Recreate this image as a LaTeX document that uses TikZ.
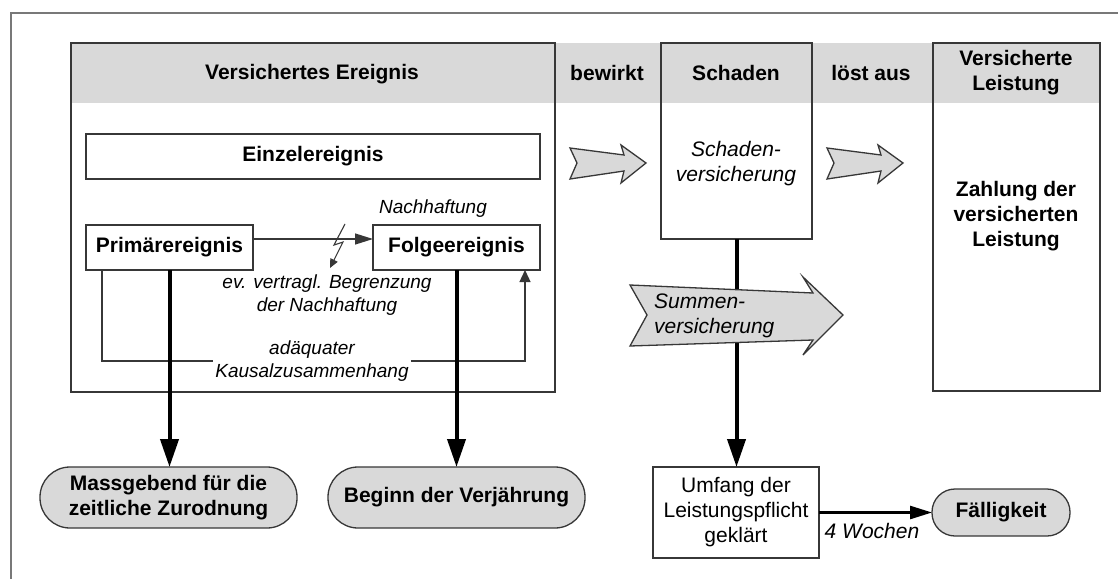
\documentclass[tikz,border=0pt]{standalone}
\usepackage{fontspec}
\setmainfont{Liberation Sans}
\usetikzlibrary{arrows.meta}
\definecolor{bg}{RGB}{217,217,217}
\definecolor{ln}{RGB}{55,55,55}
\definecolor{fr}{RGB}{120,120,120}
\begin{document}
\begin{tikzpicture}[x=1pt,y=-1pt,
  box/.style={draw=ln, line width=1.3pt, inner sep=0pt, outer sep=0pt, anchor=north west},
  oval/.style={box, fill=bg, rounded corners=#1},
  bf/.style={font=\fontsize{21}{25}\selectfont\bfseries},
  itf/.style={font=\fontsize{21}{25}\selectfont\itshape},
  rmf/.style={font=\fontsize{21}{25}\selectfont},
  sit/.style={font=\fontsize{19}{23.5}\selectfont\itshape},
  lbl/.style={inner sep=1pt, align=center},
  thickarrow/.style={line width=4pt, -{Triangle[length=28pt,width=18pt]}},
  medarrow/.style={line width=2.6pt, -{Triangle[length=22pt,width=13pt]}},
  thinarrow/.style={draw=ln, line width=1.3pt, -{Triangle[length=18pt,width=11pt]}},
  chev/.style={draw=ln, line width=1.3pt, fill=bg, line join=miter}
]
\useasboundingbox (0,0) rectangle (1118,578);
\fill[white] (0,0) rectangle (1118,578);
% outer frame
\draw[fr, line width=2pt] (10.7,600) -- (10.7,13) -- (1130,13);
% header band
\fill[bg] (71,43) rectangle (1100,103);
% main boxes
\node[box, minimum width=484pt, minimum height=349pt] (ev) at (71,43) {};
\node[box, minimum width=151pt, minimum height=196pt] (sch) at (661,43) {};
\node[box, minimum width=167pt, minimum height=348pt] (lei) at (933,43) {};
\node[box, fill=white, minimum width=454pt, minimum height=45pt, bf] (einz) at (86,134) {Einzelereignis};
\node[box, fill=white, minimum width=167pt, minimum height=45pt, bf] (prim) at (86,225) {Primärereignis};
\node[box, fill=white, minimum width=167pt, minimum height=45pt, bf] (folge) at (373,225) {Folgeereignis};
\node[box, fill=white, minimum width=166pt, minimum height=91pt, rmf, align=center] (umf) at (653,467) {Umfang der\\Leistungspflicht\\geklärt};
\node[oval=30pt, minimum width=257pt, minimum height=61pt, bf, align=center] (mass) at (40,467) {Massgebend für die\\zeitliche Zurodnung};
\node[oval=30pt, minimum width=257pt, minimum height=61pt, bf] (beg) at (328,467) {Beginn der Verjährung};
\node[oval=23pt, minimum width=138pt, minimum height=47pt, bf] (fae) at (932,489) {Fälligkeit};
% header labels
\node[bf, lbl] (hev) at (312,74) {Versichertes Ereignis};
\node[bf, lbl] (hbew) at (607,73) {bewirkt};
\node[bf, lbl] (hsch) at (736,73) {Schaden};
\node[bf, lbl] (hloe) at (871,73) {löst aus};
\node[bf, lbl] (hlei) at (1016,73) {Versicherte\\Leistung};
\node[itf, lbl] (sv) at (736,164) {Schaden-\\versicherung};
\node[bf, lbl] (zahl) at (1016,216) {Zahlung der\\versicherten\\Leistung};
\node[sit, lbl] (nach) at (433,209) {Nachhaftung};
\node[sit, lbl] (begr) at (327,295) {ev. vertragl. Begrenzung\\der Nachhaftung};
\node[sit, lbl, inner sep=2pt] (kaus) at (312,361) {adäquater\\Kausalzusammenhang};
% Primaer -> Folge
\coordinate (ay) at (0,239);
\draw[thinarrow] (prim.east |- ay) -- (folge.west |- ay);
% lightning
\coordinate (l1) at (345,224);
\coordinate (l2) at (334,245);
\coordinate (l3) at (343,242);
\coordinate (l4) at (330,268);
\draw[ln, line width=1.1pt, line join=miter, -{Triangle[length=9pt,width=8pt]}] (l1) -- (l2) -- (l3) -- (l4);
% causal connection
\coordinate (kl) at (102,361);
\coordinate (kr) at (525,361);
\draw[ln, line width=1.3pt] (prim.south -| kl) |- (kaus.west);
\draw[ln, line width=1.3pt, -{Triangle[length=12pt,width=11pt]}] (kaus.east) -| (folge.south -| kr);
% thick arrows
\draw[thickarrow] (prim.south) -- (prim.south |- mass.north);
\draw[thickarrow] (folge.south) -- (folge.south |- beg.north);
\draw[thickarrow] (sch.south) -- (sch.south |- umf.north);
\draw[medarrow] (umf.east) -- (fae.west);
\node[itf, lbl] (woch) at (872,531) {4 Wochen};
% chevrons
\draw[chev] (570,148) -- (624,155) -- (621,145) -- (646,163) -- (621,183) -- (624,171) -- (570,179) -- (577,163) -- cycle;
\draw[chev] (827,148) -- (881,155) -- (878,145) -- (903,163) -- (878,183) -- (881,171) -- (827,179) -- (834,163) -- cycle;
\draw[chev] (630,285) -- (813,293) -- (803,277) -- (843,315) -- (803,355) -- (813,340) -- (630,346) -- (647,315) -- cycle;
\node[itf, inner sep=0pt, align=left, anchor=west] (sumt) at (654,316) {Summen-\\versicherung};
\end{tikzpicture}
\end{document}
